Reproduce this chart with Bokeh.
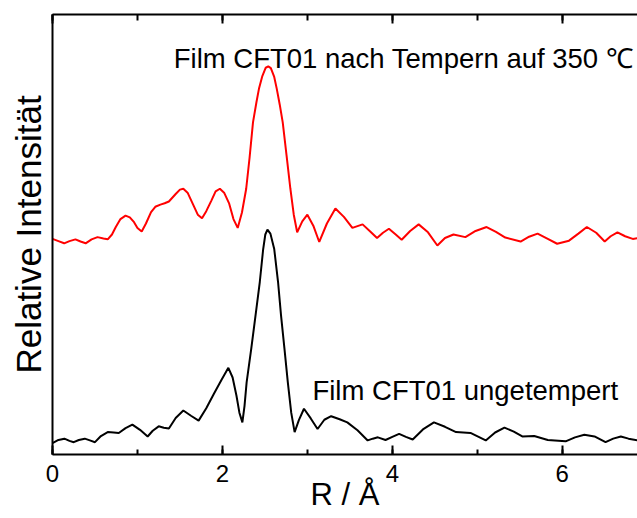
from bokeh.plotting import figure
from bokeh.models import (Range1d, LinearAxis, Label, SingleIntervalTicker, FixedTicker,
                          CustomLabelingPolicy)
from bokeh.embed import file_html
from bokeh.resources import INLINE

# ---- data ----
r_untempered = [0.00, 0.07, 0.14, 0.20, 0.25, 0.31, 0.38, 0.44, 0.50, 0.57, 0.65, 0.72,
                0.78, 0.86, 0.94, 1.03, 1.12, 1.18, 1.25, 1.31, 1.37, 1.45, 1.54, 1.63,
                1.72, 1.81, 1.90, 1.99, 2.07, 2.12, 2.165, 2.20, 2.235, 2.26, 2.285, 2.34,
                2.39, 2.44, 2.48, 2.505, 2.53, 2.565, 2.61, 2.655, 2.69, 2.73, 2.77, 2.81,
                2.85, 2.90, 2.96, 3.04, 3.12, 3.20, 3.28, 3.38, 3.47, 3.59, 3.71, 3.77,
                3.83, 3.92, 4.00, 4.08, 4.16, 4.24, 4.36, 4.49, 4.62, 4.75, 4.92, 5.10,
                5.21, 5.32, 5.43, 5.53, 5.67, 5.83, 6.04, 6.15, 6.26, 6.38, 6.51, 6.60,
                6.69, 6.78, 6.89]
i_untempered = [2.6, 3.3, 3.6, 3.1, 2.8, 3.3, 3.6, 3.2, 2.8, 4.2, 5.1, 5.0,
                4.9, 6.0, 6.8, 5.6, 4.1, 5.4, 6.4, 6.1, 5.9, 8.3, 10.0, 8.8,
                7.7, 10.5, 13.8, 17.0, 19.7, 17.5, 13.4, 9.5, 7.3, 11.0, 16.4, 24.1,
                31.6, 39.2, 46.7, 50.0, 51.1, 50.2, 46.7, 39.2, 31.6, 24.1, 16.4, 9.5,
                5.1, 7.8, 10.4, 8.2, 5.8, 7.9, 8.7, 8.0, 7.3, 5.5, 3.2, 3.6,
                3.9, 3.3, 4.0, 4.7, 4.0, 3.4, 5.7, 7.3, 6.3, 5.1, 4.9, 3.2,
                5.0, 6.1, 5.2, 4.1, 4.2, 3.3, 3.0, 3.9, 4.5, 4.1, 2.8, 3.6,
                4.1, 3.6, 3.2]

r_tempered = [0.00, 0.07, 0.137, 0.20, 0.27, 0.33, 0.39, 0.46, 0.53, 0.60, 0.65, 0.70,
              0.745, 0.80, 0.86, 0.91, 0.96, 1.00, 1.05, 1.10, 1.16, 1.21, 1.27, 1.32,
              1.37, 1.45, 1.50, 1.54, 1.59, 1.65, 1.71, 1.76, 1.81, 1.87, 1.92, 1.97,
              2.02, 2.08, 2.13, 2.18, 2.23, 2.28, 2.32, 2.36, 2.40, 2.43, 2.47, 2.51,
              2.54, 2.57, 2.61, 2.64, 2.675, 2.71, 2.755, 2.80, 2.84, 2.88, 2.94, 3.00,
              3.07, 3.14, 3.23, 3.33, 3.43, 3.53, 3.65, 3.74, 3.82, 3.89, 3.96, 4.04,
              4.11, 4.21, 4.31, 4.42, 4.53, 4.62, 4.72, 4.86, 4.98, 5.11, 5.22, 5.33,
              5.51, 5.61, 5.71, 5.83, 5.94, 6.08, 6.19, 6.29, 6.40, 6.50, 6.57, 6.65,
              6.74, 6.83, 6.89]
i_tempered = [49.0, 48.5, 48.0, 48.5, 48.9, 48.4, 48.0, 48.9, 49.4, 49.1, 48.9, 50.0,
              51.7, 53.5, 54.3, 53.9, 52.8, 51.5, 50.7, 52.5, 55.1, 56.3, 56.8, 57.1,
              57.5, 59.2, 60.2, 60.4, 59.5, 57.0, 54.5, 53.7, 55.3, 57.7, 59.8, 60.4,
              59.5, 57.0, 53.5, 51.5, 55.0, 60.4, 67.5, 75.5, 80.0, 83.1, 86.0, 87.9,
              88.2, 87.8, 85.8, 83.1, 79.5, 75.5, 68.0, 60.4, 54.5, 50.5, 53.0, 54.5,
              52.0, 48.3, 52.5, 55.9, 54.0, 51.5, 52.3, 50.7, 49.2, 50.4, 51.3, 50.0,
              48.8, 50.8, 52.3, 50.5, 47.5, 49.2, 50.0, 49.4, 50.8, 51.7, 50.6, 49.3,
              48.4, 49.5, 50.2, 49.0, 47.9, 48.6, 50.2, 51.7, 50.4, 48.4, 49.6, 50.5,
              49.6, 49.0, 49.2]

label_tempered = "Film CFT01 nach Tempern auf 350 \u2103"
label_untempered = "Film CFT01 ungetempert"
x_title = "R / \u00c5"
y_title = "Relative Intensit\u00e4t"

FONT = "Liberation Sans"

p = figure(width=637, height=518, output_backend="svg", toolbar_location=None,
           x_range=Range1d(0, 6.886), y_range=Range1d(0, 100),
           min_border_left=52, min_border_right=0, min_border_top=14, min_border_bottom=64,
           x_axis_location=None, y_axis_location=None)
p.outline_line_color = None
p.xgrid.visible = False
p.ygrid.visible = False
p.background_fill_color = "white"
p.border_fill_color = "white"

p.line(r_tempered, i_tempered, line_color="#ff0000", line_width=2)
p.line(r_untempered, i_untempered, line_color="#000000", line_width=2)

# bottom axis
xb = LinearAxis(ticker=SingleIntervalTicker(interval=2, num_minor_ticks=2))
xb.axis_line_width = 2
xb.major_tick_line_width = 2
xb.minor_tick_line_width = 2
xb.major_tick_in = 9
xb.major_tick_out = 0
xb.minor_tick_in = 5
xb.minor_tick_out = 0
xb.major_label_standoff = 10
xb.major_label_text_font = FONT
xb.major_label_text_font_size = "24px"
xb.major_label_text_color = "black"
xb.axis_label = x_title
xb.axis_label_text_font = FONT
xb.axis_label_text_font_size = "31px"
xb.axis_label_text_font_style = "normal"
xb.axis_label_text_color = "black"
xb.axis_label_standoff = -8
p.add_layout(xb, "below")

# top axis (ticks only, labels suppressed by policy)
xt = LinearAxis(ticker=SingleIntervalTicker(interval=2, num_minor_ticks=2))
xt.axis_line_width = 2
xt.major_tick_line_width = 2
xt.minor_tick_line_width = 2
xt.major_tick_in = 9
xt.major_tick_out = 0
xt.minor_tick_in = 6
xt.minor_tick_out = 0
xt.major_label_standoff = 0
xt.major_label_text_font_size = "10px"
xt.major_label_policy = CustomLabelingPolicy(code="""
    for (const i of Array.from(indices)) { indices.unset(i) }
    return indices
""")
p.add_layout(xt, "above")

# left axis (line + title, no ticks)
yl = LinearAxis(ticker=FixedTicker(ticks=[]))
yl.axis_line_width = 2
yl.major_tick_line_color = None
yl.minor_tick_line_color = None
yl.major_tick_out = 0
yl.major_label_standoff = 0
yl.axis_label = y_title
yl.axis_label_text_font = FONT
yl.axis_label_text_font_size = "35px"
yl.axis_label_text_font_style = "normal"
yl.axis_label_text_color = "black"
yl.axis_label_standoff = 5
p.add_layout(yl, "left")

p.add_layout(Label(x=1.427, y=90.0, text=label_tempered, text_align="left",
                   text_baseline="alphabetic", text_font=FONT, text_font_size="27.5px",
                   text_color="black"))
p.add_layout(Label(x=3.06, y=14.5, text=label_untempered, text_align="left",
                   text_baseline="alphabetic", text_font=FONT, text_font_size="27.5px",
                   text_color="black"))

open("out.html", "w").write(file_html(p, INLINE))
